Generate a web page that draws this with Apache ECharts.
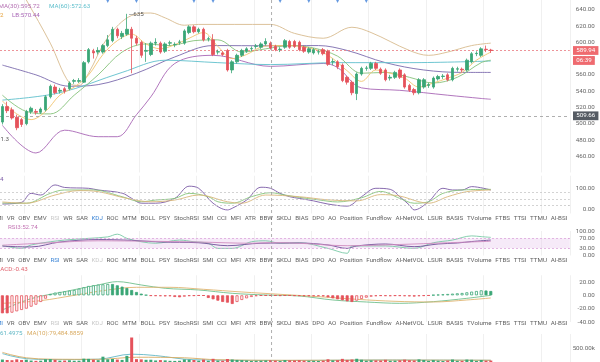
<!DOCTYPE html>
<html><head><meta charset="utf-8">
<script src="https://cdn.jsdelivr.net/npm/echarts@6/dist/echarts.min.js"></script>
<style>html,body{margin:0;padding:0;background:#fff;overflow:hidden}#c{width:600px;height:362px}</style>
</head><body><div id="c"></div>
<script>
// ---------------- DATA ----------------
const slotCount = 119;
const categories = Array.from({length: slotCount}, (_, i) => String(i));
const candleOpen  = [502,521,517,508,505,500,515,515,514,517,533,545,540,543,543,552,552,551,576,589,588,588,596,602,616,607,610,616,605,600,589,585,599,599,589,599,597,600,599,612,619,613,616,604,603,588,587,590,566,576,584,589,592,595,594,598,599,595,591,594,601,601,600,594,588,587,588,591,589,576,576,572,557,551,537,561,568,568,574,567,566,556,557,566,560,547,542,538,545,547,545,555,558,560,554,567,567,566,576,586,584,591.5,590.5];
const candleClose = [521,516,507,495,499,515,519,514,518,533,546,538,541,540,550,553,553,575,591,587,590,596,603,616,608,611,616,605,599,584,590,599,600,588,598,599.5,597.5,600.5,614,619,613,616,603,604.5,585,588.5,585,566,576,584,590,592,592.5,595.5,598,601,593,591,591.5,602,594,595,591,589,592,591,588.5,586,573,576.5,570,553,551,538,561,568,568.5,574,568,562,554,557,563,557,545,541,538,554,554,548,556,558,558.5,554,568,567.5,566,578,586,586.5,592,591,589.94];
const candleLow   = [499,513,505,492,496,498,512,511,512,515,531,536,537,537,541,549,550,550,574,580,585,586,594,600,605,604,608,562,596,581,576,583,596,586,587,596,594,597,597,610,611,611,601,601,583,585,583,564,562,574,582,587,589,592,592,596,591,589,588,592,592,593,589,587,586,585,585,584,571,572,567,551,548,535,529,559,565,566,566,560,552,553,555,555,543,539,535,536,543,544,543,553,555,552,552,564,563,564,574,583,582,588,587];
const candleHigh  = [524,527,520,511,507,517,521,518,520,535,548,548,544,545,552,555,556,577,593,592,594,598,609,619,618,614,635,619,608,602,599,601,605,601,600,602,600,603,616,621,621,618,618,607,610,591,589,592,578,586,592,594,595,598,600,605,601,597,594,604,603,603,602,596,594,593,591,593,591,580,578,574,559,553,563,570,571,576,576,569,568,560,565,568,562,549,544,556,556,550,558,560,561,562,570,570,569,580,588,589,594,596,592];
const volume      = [88000,72000,64000,95000,70000,82000,52000,41000,46000,98000,104000,76000,48000,52000,61000,44000,47000,118000,112000,84000,66000,190000,96000,108000,87000,74000,220000,875000,102000,94000,78000,81000,55000,69000,58000,42000,39000,44000,92000,83000,71000,49000,86000,45000,114000,51000,46000,108000,88000,73000,66000,52000,38000,41000,47000,56000,62000,49000,36000,68000,59000,54000,63000,48000,44000,42000,35000,49000,97000,58000,66000,112000,74000,89000,116000,81000,46000,62000,57000,53000,79000,43000,48000,61000,84000,63000,55000,92000,71000,40000,69000,47000,36000,52000,88000,41000,39000,86000,79000,37000,72000,45000,51000];
const macdHist    = [-27,-27,-26,-24,-22,-20,-17,-14,-10,-5,2,4,5,6,7,8,10,12,14,15,16,16.5,17,17,15,13,11,8,5,2.5,0.5,-0.8,-1,-1.2,-1.5,-1.3,-2.5,-3,-2,-1,-0.8,-0.5,-0.6,-4,-6,-8,-10,-11,-13,-10,-7,-4.5,-2.5,-1.2,-0.6,-0.5,-0.43,-0.5,-0.8,-0.6,-0.5,-0.8,-1,-1.2,-1.4,-1.3,-1.2,-1.5,-3,-4.5,-6,-7.5,-9,-10,-8,-5.5,-3.5,-2,-1.2,-0.8,-1,-1.2,-0.8,-0.9,-1.2,-1.5,-1.8,-1.2,-0.8,-0.5,0.5,1,1.5,2,2.5,3,3.5,4.5,5.5,6.5,7.5,7.2,6.5];
// overlay lines: [slot index, value] knots
const bollUpper = [[4,662],[5,652],[10,599],[14,550],[16,547],[18,562],[22,606],[27,633],[31,636],[34,630],[38,621],[41,622],[56,622],[61,611],[67,605],[73,618.5],[77,612],[85,590],[89,584],[93,588],[98,596],[102,599]];
const bollLower = [[0,498],[7,464],[13,492],[20,484],[24,484],[28,511],[31,533],[36,574],[44,584],[56,570.44],[67,574],[70,569],[75,544],[83,541],[93,535],[100,531],[102,530]];
const maFast = [[0,528],[3,512],[6,505],[9,515],[12,535],[15,545],[18,560],[21,585],[24,602],[27,610],[30,598],[33,592],[36,597],[39,605],[42,612],[45,595],[48,580],[51,585],[54,594],[57,596],[60,596],[63,594],[66,590],[69,580],[72,565],[75,552],[78,566],[81,562],[84,556],[87,545],[90,550],[93,556],[96,563],[99,578],[102,588]];
const ma10 = [[0,535],[5,515],[10,512],[15,535],[20,560],[25,588],[30,598],[35,596],[40,602],[45,603],[50,588],[55,592],[60,596],[65,593],[70,583],[75,562],[80,563],[85,557],[90,550],[95,557],[100,575],[102,578]];
const ma30 = [[0,572],[7,560],[14,546],[20,548],[28,562],[36,582],[44,596],[56,595.72],[66,596],[72,590],[80,575],[88,566],[96,563],[102,563]];
const ma60 = [[0,529],[12,538],[25,563],[34,578],[45,575],[56,572.63],[70,575],[85,575],[102,577]];
const kdjJ = [[0,25],[4,33],[6,76],[8,68],[11,116],[13,104],[18,100],[20,92],[25,77],[27,52],[29,29],[32,29],[36,52],[39,110],[41,100],[44,29],[47,-3],[48,5],[51,44],[54,105],[56,100],[58,76],[60,60],[62,52],[65,40],[68,25],[72,15],[75,60],[78,100],[81,95],[83,60],[85,20],[86,-3],[89,36],[92,100],[94,92],[96,92],[98,108],[102,92]];
const kdjK = [[0,30],[5,29],[10,76],[13,92],[19,92],[25,60],[29,36],[32,44],[36,52],[39,76],[43,60],[45,36],[48,29],[52,60],[56,79],[59,68],[62,57],[66,45],[70,35],[75,55],[79,85],[83,52],[86,29],[89,36],[92,76],[96,92],[102,95]];
const kdjD = [[0,35],[5,29],[11,68],[16,89],[20,84],[26,52],[31,36],[36,44],[41,68],[47,36],[50,29],[55,68],[62,60],[68,45],[74,40],[79,70],[83,63],[87,36],[89,29],[93,60],[97,84],[102,92]];
const rsi1 = [[0,41],[4,29],[6,43],[10,56],[13,63],[18,70],[22,76],[24,87],[26,70],[29,56],[32,50],[37,63],[40,56],[43,50],[45,29],[48,29],[52,56],[55,60],[58,50],[62,52],[68,29],[72,9],[73,39],[80,39],[86,29],[90,52],[94,63],[98,80],[100,77],[102,74]];
const rsi2 = [[0,38],[6,35],[12,55],[20,65],[27,62],[33,55],[41,52],[47,40],[54,50],[62,51],[68,43],[72,29],[74,39],[80,47],[86,36],[91,47],[95,51],[98,57],[102,63]];
const rsi3 = [[0,42],[10,52],[20,60],[31,58],[41,55],[52,50],[56,52.74],[62,50],[72,40],[83,45],[93,52],[102,58]];
const dif = [[0,-22],[6,-5],[13,5.5],[20,15.5],[24,20.5],[29,15.5],[34,10.5],[41,8],[48,3],[55,0.5],[62,-1],[69,-7],[76,-10],[83,-12],[90,-9.5],[97,-4.5],[102,0]];
const dea = [[0,-12],[8,-8],[15,0],[22,8],[28,12],[35,12],[42,9],[50,5],[58,1.5],[66,-2],[74,-6],[82,-9],[90,-10],[97,-7],[102,-4]];
const volMa5 = [[0,300000],[2,210000],[5,120000],[10,85000],[20,100000],[27,280000],[32,230000],[40,80000],[60,55000],[80,70000],[102,60000]];
const volMa10 = [[0,345000],[2,250000],[5,150000],[10,100000],[20,95000],[28,170000],[38,150000],[45,80000],[60,60000],[80,68000],[102,62000]];
const eventIdx = [22, 28, 40, 44, 58, 64, 70, 76];
const crossIdx = 56;
const mainTicks = [440, 652, 20];
const tabNames = ["DMI","VR","OBV","EMV","RSI","WR","SAR","KDJ","ROC","MTM","BOLL","PSY","StochRSI","SMI","CCI","MFI","ATR","BBW","SKDJ","BIAS","DPO","AO","Position","Fundflow","AI-NetVOL","LSUR","BASIS","TVolume","FTBS","TTSI","TTMU","AI-BSI"];
const lastPrice = 589.94, lowLine = 509.66, countdown = "06:39", peak = 635;

// ---------------- CHART ----------------
const FONT = 'Roboto, "Noto Sans", sans-serif';
const FS = 6.2;
const UP = '#3aa676', DOWN = '#e5525b';
const gridLeft = -0.7, gridRight = 30.2;
const grids = [
  {left: gridLeft, right: gridRight, top: 0, height: 172.5},
  {left: gridLeft, right: gridRight, top: 175.7, height: 37.8},
  {left: gridLeft, right: gridRight, top: 231, height: 24.5},
  {left: gridLeft, right: gridRight, top: 275.3, height: 46.7},
  {left: gridLeft, right: gridRight, top: 334, height: 32}
];
const vline = (i) => i % 12 === 5;
const xAxes = grids.map((g, k) => ({
  type: 'category', gridIndex: k, data: categories, boundaryGap: true,
  axisLine: {show: false}, axisTick: {show: false}, axisLabel: {show: false},
  splitLine: {show: true, interval: (i) => vline(i), lineStyle: {color: '#f0f0f0', width: 1}}
}));
const lbl = (fmt) => ({show: true, align: 'right', margin: 25, fontSize: FS, fontFamily: FONT, color: '#666', formatter: fmt, showMinLabel: true, showMaxLabel: true});
const yBase = {position: 'right', axisLine: {show: false}, axisTick: {show: false}, splitLine: {show: false}, scale: false};
const yAxes = [
  Object.assign({}, yBase, {gridIndex: 0, min: mainTicks[0], max: mainTicks[1], interval: mainTicks[2],
    axisLabel: Object.assign(lbl(v => (v === 440 || v === 652) ? '' : v.toFixed(2)))}),
  Object.assign({}, yBase, {gridIndex: 1, min: -20, max: 160, interval: 20,
    axisLabel: lbl(v => (v === 0 || v === 100) ? v.toFixed(2) : '')}),
  Object.assign({}, yBase, {gridIndex: 2, min: 0, max: 100, interval: 10,
    axisLabel: lbl(v => [0, 30, 70, 100].includes(v) ? v.toFixed(2) : '')}),
  Object.assign({}, yBase, {gridIndex: 3, min: -40, max: 30, interval: 20,
    axisLabel: lbl(v => v === 30 ? '' : v.toFixed(2))}),
  Object.assign({}, yBase, {gridIndex: 4, min: 0, max: 1000000, interval: 500000,
    axisLabel: lbl(v => v === 500000 ? '500.00k' : '')})
];
const lineS = (name, data, color, k, extra) => Object.assign({
  name, type: 'line', data, xAxisIndex: k, yAxisIndex: k, symbol: 'none', smooth: 0.35,
  lineStyle: {color, width: 0.9}, z: 2, silent: true, animation: false
}, extra || {});

const candleData = candleOpen.map((o, i) => [o, candleClose[i], candleLow[i], candleHigh[i]]);
const isUp = (i) => candleClose[i] >= candleOpen[i];
const macdData = macdHist.map((v, i) => {
  const prev = i > 0 ? macdHist[i - 1] : v;
  const c = v >= 0 ? UP : DOWN;
  const hollow = v > prev;
  return {value: v, itemStyle: hollow ? {color: '#fff', borderColor: c, borderWidth: 0.8} : {color: c, borderColor: c, borderWidth: 0.8}};
});
const volData = volume.map((v, i) => ({value: v, itemStyle: {color: isUp(i) ? UP : DOWN}}));
const dashGray = {type: [2, 2], color: '#c8c8c8', width: 0.8};

const series = [
  lineS('UB', bollUpper, '#d8bb8e', 0),
  lineS('LB', bollLower, '#a866b6', 0),
  lineS('MA30', ma30, '#7a6aad', 0),
  lineS('MA60', ma60, '#5fbfcc', 0),
  lineS('MA10', ma10, '#86c27a', 0),
  lineS('MA5', maFast, '#f2c46e', 0),
  {
    name: 'K', type: 'candlestick', xAxisIndex: 0, yAxisIndex: 0, data: candleData, barWidth: 3, z: 5,
    itemStyle: {color: UP, color0: DOWN, borderColor: UP, borderColor0: DOWN, borderWidth: 0.8},
    markLine: {symbol: 'none', silent: true, animation: false, label: {show: false},
      data: [
        {yAxis: lastPrice, lineStyle: {type: [2, 2], color: '#e8797f', width: 0.8}},
        {yAxis: lowLine, lineStyle: {type: [3, 3], color: '#9a9a9a', width: 0.8}}
      ]}
  },
  {
    name: 'events', type: 'scatter', xAxisIndex: 0, yAxisIndex: 0, z: 6,
    data: eventIdx.map(i => [i, mainTicks[1]]), symbol: 'triangle', symbolRotate: 180, symbolSize: [6, 6],
    itemStyle: {color: '#3f7fd8'}, silent: true
  },
  lineS('J', kdjJ, '#7b5aa6', 1, {markLine: {symbol: 'none', silent: true, label: {show: false}, lineStyle: dashGray,
    data: [{yAxis: 80}, {yAxis: 50}, {yAxis: 20}]}}),
  lineS('Kk', kdjK, '#86c57a', 1),
  lineS('D', kdjD, '#d9b77a', 1),
  lineS('RSI1', rsi1, '#79c9a6', 2, {markArea: {silent: true, itemStyle: {color: 'rgba(228,196,236,0.35)'}, data: [[{yAxis: 30}, {yAxis: 70}]]},
    markLine: {symbol: 'none', silent: true, label: {show: false}, lineStyle: {type: [2, 2], color: '#dca6dc', width: 0.8}, data: [{yAxis: 30}, {yAxis: 70}]}}),
  lineS('RSI2', rsi2, '#6e4f98', 2),
  lineS('RSI3', rsi3, '#cf8cbf', 2),
  {name: 'MACD', type: 'bar', xAxisIndex: 3, yAxisIndex: 3, data: macdData, barWidth: 3, z: 3, silent: true},
  lineS('DIF', dif, '#6fbf8c', 3),
  lineS('DEA', dea, '#e0b472', 3),
  {name: 'VOL', type: 'bar', xAxisIndex: 4, yAxisIndex: 4, data: volData, barWidth: 3, z: 3, silent: true},
  lineS('VMA5', volMa5, '#62b8c6', 4),
  lineS('VMA10', volMa10, '#d9ab62', 4)
];

const chart = echarts.init(document.getElementById('c'), null, {renderer: 'canvas'});
chart.setOption({
  animation: false, backgroundColor: '#fff',
  grid: grids, xAxis: xAxes, yAxis: yAxes, series
});

// ---------- decorations positioned through the chart's own scales ----------
const px = (g, x, y) => chart.convertToPixel({gridIndex: g}, [x, y]);
const txt = (x, y, text, fill, extra) => ({type: 'text', x, y, silent: true, z: 100,
  style: Object.assign({text, fill, font: FS + 'px ' + FONT, fontSize: FS, fontFamily: FONT, textAlign: 'left', align: 'left', textVerticalAlign: 'middle', verticalAlign: 'middle'}, extra || {})});
const tabRow = (y, hi, dim) => {
  const base = {fontSize: FS, fontFamily: FONT, padding: [0, 1.85]};
  const rich = {
    n: Object.assign({fill: '#606060', color: '#606060'}, base),
    h: Object.assign({fill: '#3d86d6', color: '#3d86d6'}, base),
    d: Object.assign({fill: '#c9c9c9', color: '#c9c9c9'}, base)
  };
  const text = tabNames.map(n => '{' + (n === hi ? 'h' : (dim.includes(n) ? 'd' : 'n')) + '|' + n + '}').join('');
  return txt(-10, y, text, '#606060', {rich});
};
const xCross = px(0, crossIdx, 600)[0];
const yLast = px(0, 0, lastPrice)[1];
const yLow = px(0, 0, lowLine)[1];
const pk = px(0, 26, peak);
const tag = (y, text, bg) => txt(573, y, text, '#fff', {backgroundColor: bg, padding: [1.6, 3.2, 1.2, 3.2], fontSize: FS, font: FS + 'px ' + FONT});
const graphics = [
  {type: 'line', silent: true, z: 90, shape: {x1: xCross + 1, y1: 0, x2: xCross + 1, y2: 362}, style: {stroke: '#9a9a9a', lineWidth: 0.8, lineDash: [3, 3]}},
  txt(-1.5, 6, 'MA(30):595.72', '#b46fb2'),
  txt(49, 6, 'MA(60):572.63', '#5fbfcc'),
  txt(3.5, 15, 'MB:596.32', '#e6a23c', {textAlign: 'right', align: 'right'}),
  txt(12, 15, 'LB:570.44', '#a866b6'),
  txt(pk[0] + 1.5, pk[1] + 1, '\u2014635', '#555'),
  txt(9, 139, '491.3', '#555', {textAlign: 'right', align: 'right'}),
  txt(3.5, 179.5, 'J:94', '#7b5aa6', {textAlign: 'right', align: 'right'}),
  txt(8, 227.5, 'RSI3:52.74', '#c374b3'),
  txt(-5.2, 269, 'MACD:-0.43', '#e0606c'),
  txt(22.5, 333, 'MA(5):81,361.4975', '#62b8c6', {textAlign: 'right', align: 'right'}),
  txt(27, 333, 'MA(10):79,484.8859', '#d9ab62'),
  tabRow(218.3, 'KDJ', ['RSI']),
  tabRow(260, 'RSI', ['KDJ']),
  tabRow(323, 'DMI', ['RSI', 'KDJ']),
  tag(yLast, lastPrice.toFixed(2), '#ef6a6f'),
  tag(yLast + 10, countdown, '#ef6a6f'),
  tag(yLow, lowLine.toFixed(2), '#555b63')
];
chart.setOption({graphic: graphics});
</script>
</body></html>
